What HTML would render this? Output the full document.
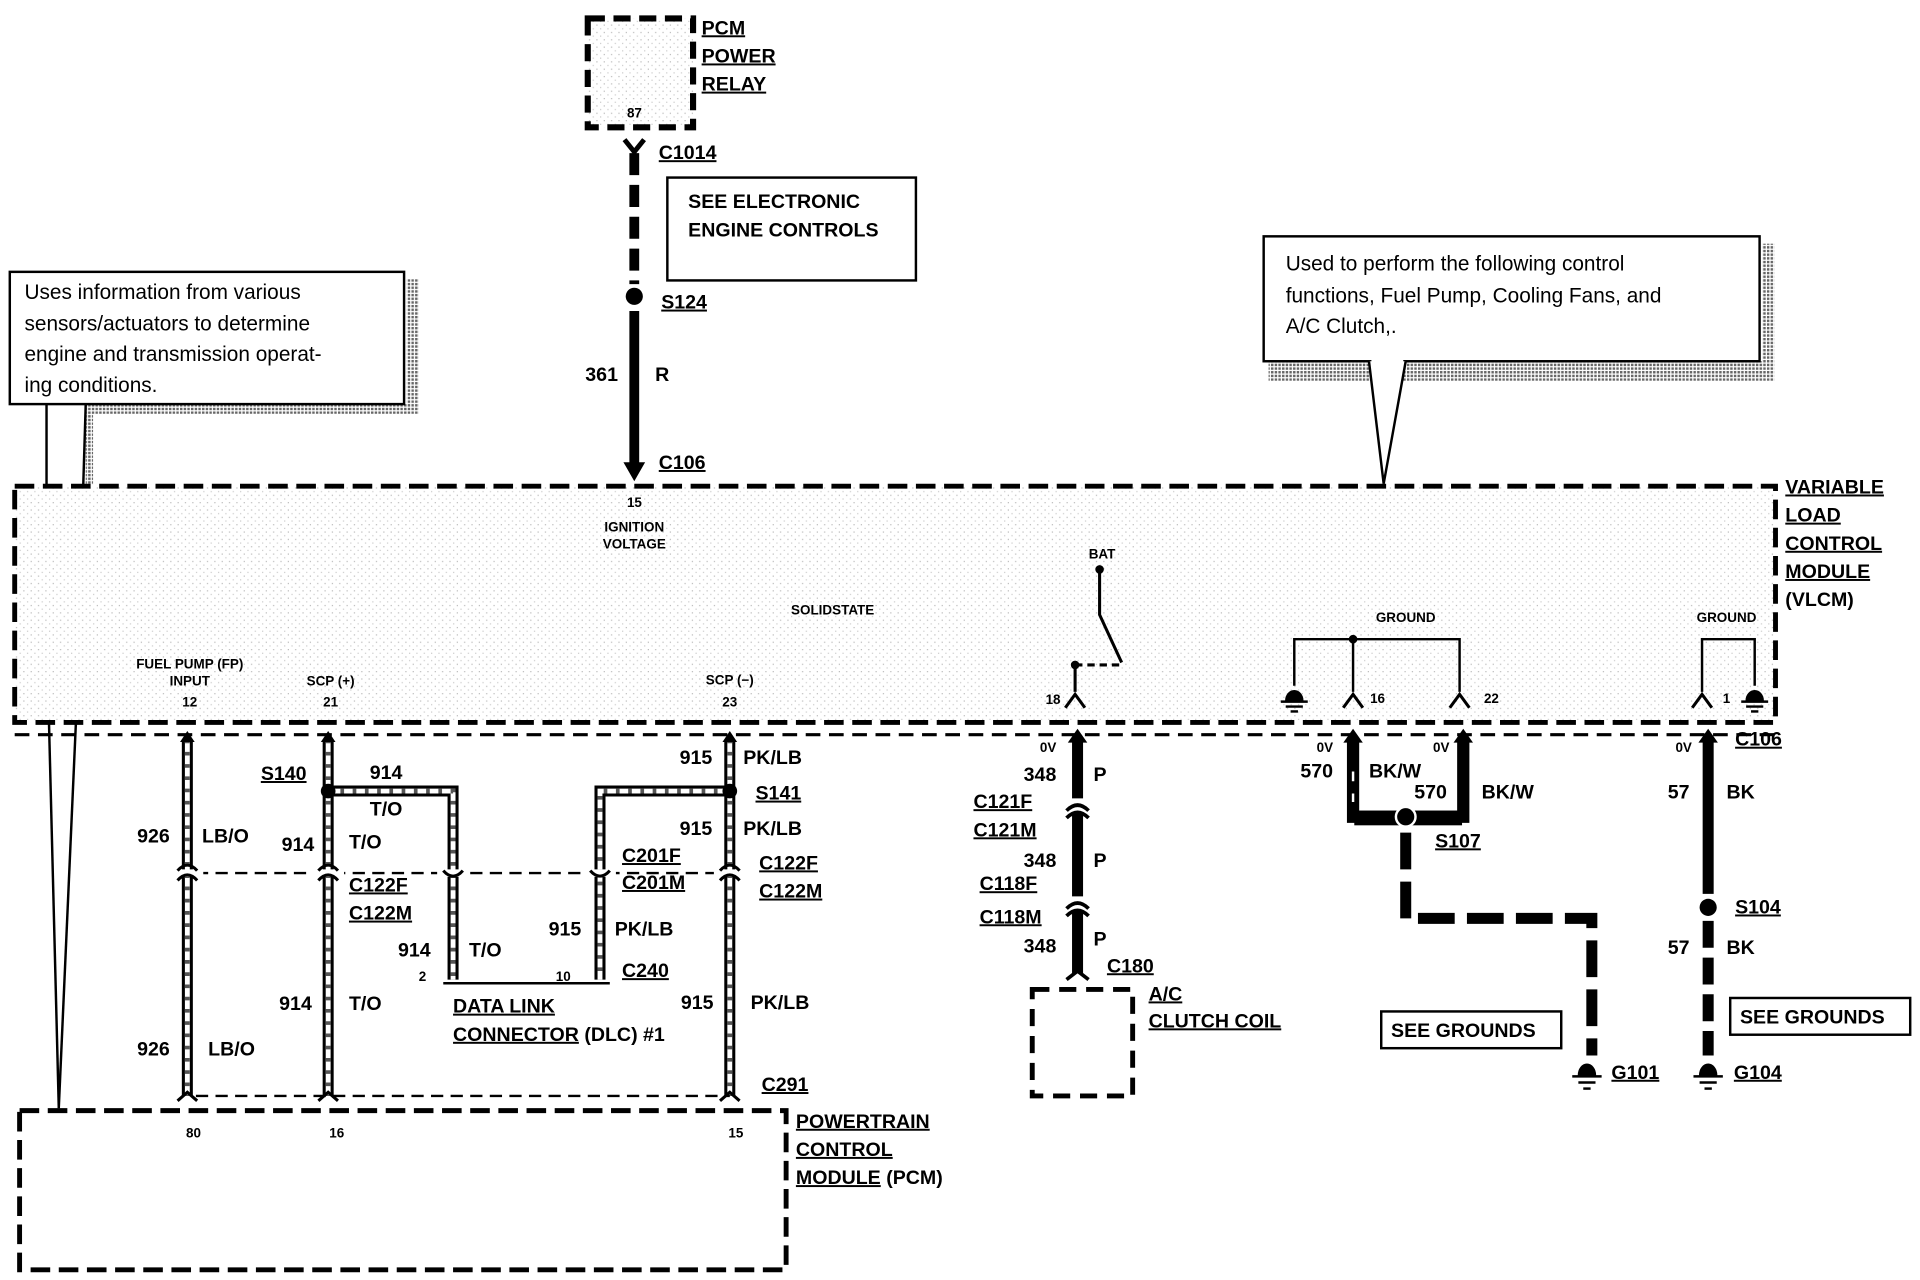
<!DOCTYPE html>
<html><head><meta charset="utf-8"><style>
html,body{margin:0;padding:0;background:#fff;}
svg{display:block}
.b{font-family:"Liberation Sans",sans-serif;font-weight:bold;font-size:16px;fill:#000}
.s{font-family:"Liberation Sans",sans-serif;font-weight:bold;font-size:11px;fill:#000}
.r{font-family:"Liberation Sans",sans-serif;font-size:17px;fill:#000}
.u{text-decoration:underline}
</style></head><body>
<svg width="1920" height="1280" viewBox="0 0 1568 1045.3" xmlns="http://www.w3.org/2000/svg">
<defs>
<pattern id="st" width="6" height="6" patternUnits="userSpaceOnUse"><rect width="6" height="6" fill="#fff"/><rect x="1" y="2" width="1" height="1" fill="#bbb"/><rect x="4" y="5" width="1" height="1" fill="#ccc"/></pattern>
<pattern id="sh" width="3" height="3" patternUnits="userSpaceOnUse"><rect width="3" height="3" fill="#fff"/><rect width="2" height="2" fill="#666"/></pattern>
</defs>
<g stroke="#000" fill="none">
<!-- PCM relay -->
<rect x="480" y="15" width="86" height="89" fill="url(#st)" stroke-width="5" stroke-dasharray="14,7"/>
<!-- relay wire -->
<line x1="518" y1="125" x2="518" y2="232" stroke-width="8" stroke-dasharray="18,8"/>
<polyline points="510,114 518,124 526,114" stroke-width="4"/>
<line x1="518" y1="254" x2="518" y2="380" stroke-width="8"/>
<polygon points="510,378 526,378 518,392" fill="#000" stroke-width="1"/>
<circle cx="518" cy="242" r="7" fill="#000" stroke="none"/>
<!-- see electronic -->
<rect x="545" y="145" width="203" height="84" stroke-width="2"/>
<!-- left callout -->
<rect x="332" y="228" width="10" height="106" fill="url(#sh)" stroke="none"/>
<rect x="72" y="330" width="270" height="8" fill="url(#sh)" stroke="none"/>
<rect x="70" y="330" width="6" height="66" fill="url(#sh)" stroke="none"/>
<rect x="8" y="222" width="322" height="108" fill="#fff" stroke-width="2"/>
<line x1="38" y1="330" x2="38" y2="396" stroke-width="2"/>
<line x1="70" y1="330" x2="68" y2="396" stroke-width="2"/>
<!-- right callout -->
<rect x="1439" y="199" width="10" height="100" fill="url(#sh)" stroke="none"/>
<rect x="1036" y="295" width="413" height="16" fill="url(#sh)" stroke="none"/>
<rect x="1032" y="193" width="405" height="102" fill="#fff" stroke-width="2"/>
<polyline points="1118,295 1130,395 1148,295" stroke-width="2" fill="#fff"/>
<line x1="1120" y1="295" x2="1146" y2="295" stroke="#fff" stroke-width="3"/>
<!-- VLCM -->
<rect x="12" y="397" width="1438" height="193" fill="url(#st)" stroke-width="4" stroke-dasharray="16,7"/>
<line x1="12" y1="600" x2="1452" y2="600" stroke-width="2.5" stroke-dasharray="12,7"/>
<line x1="40" y1="590" x2="48" y2="905" stroke-width="2"/>
<line x1="62" y1="590" x2="48" y2="905" stroke-width="2"/>
<!-- BAT switch -->
<circle cx="898" cy="465" r="3" fill="#000"/>
<polyline points="898,465 898,502 916,541" stroke-width="2.5"/>
<circle cx="878" cy="543" r="3" fill="#000"/>
<line x1="878" y1="543" x2="914" y2="543" stroke-width="2.5" stroke-dasharray="6,4"/>
<line x1="878" y1="543" x2="878" y2="565" stroke-width="2.5"/>
<polyline points="870,578 878,567 886,578" stroke-width="2.5"/>
<!-- ground bus -->
<polyline points="1057,560 1057,522 1192,522 1192,565" stroke-width="2"/>
<line x1="1105" y1="522" x2="1105" y2="565" stroke-width="2"/>
<circle cx="1105" cy="522" r="3" fill="#000"/>
<polyline points="1097,578 1105,567 1113,578" stroke-width="2.5"/>
<polyline points="1184,578 1192,567 1200,578" stroke-width="2.5"/>
<polyline points="1390,565 1390,522 1433,522 1433,560" stroke-width="2"/>
<polyline points="1382,578 1390,567 1398,578" stroke-width="2.5"/>
</g>
<!-- ground symbols -->
<g fill="#000" stroke="#000">
<path d="M1050,572 a7,8 0 0 1 14,0 z"/><line x1="1046" y1="573" x2="1068" y2="573" stroke-width="2"/><line x1="1050" y1="577" x2="1064" y2="577" stroke-width="2"/><line x1="1054" y1="581" x2="1060" y2="581" stroke-width="2"/>
<path d="M1426,572 a7,8 0 0 1 14,0 z"/><line x1="1422" y1="573" x2="1444" y2="573" stroke-width="2"/><line x1="1426" y1="577" x2="1440" y2="577" stroke-width="2"/><line x1="1430" y1="581" x2="1436" y2="581" stroke-width="2"/>
<path d="M1289,878 a7,9 0 0 1 14,0 z"/><line x1="1284" y1="879" x2="1308" y2="879" stroke-width="2"/><line x1="1289" y1="884" x2="1303" y2="884" stroke-width="2"/><line x1="1293" y1="889" x2="1299" y2="889" stroke-width="2"/>
<path d="M1388,878 a7,9 0 0 1 14,0 z"/><line x1="1383" y1="879" x2="1407" y2="879" stroke-width="2"/><line x1="1388" y1="884" x2="1402" y2="884" stroke-width="2"/><line x1="1392" y1="889" x2="1398" y2="889" stroke-width="2"/>
</g>
<!-- PCM side hatched wires -->
<g fill="none">
<g stroke="#000" stroke-width="9">
<line x1="153" y1="604" x2="153" y2="895"/><line x1="268" y1="604" x2="268" y2="895"/><line x1="596" y1="604" x2="596" y2="895"/>
<polyline points="268,646 370,646 370,800"/><polyline points="596,646 490,646 490,800"/>
</g>
<g stroke="#fff" stroke-width="4">
<line x1="153" y1="604" x2="153" y2="895"/><line x1="268" y1="604" x2="268" y2="895"/><line x1="596" y1="604" x2="596" y2="895"/>
<polyline points="268,646 370,646 370,800"/><polyline points="596,646 490,646 490,800"/>
</g>
<g stroke="#555" stroke-width="4" stroke-dasharray="3,7">
<line x1="153" y1="604" x2="153" y2="895"/><line x1="268" y1="604" x2="268" y2="895"/><line x1="596" y1="604" x2="596" y2="895"/>
<polyline points="268,646 370,646 370,800"/><polyline points="596,646 490,646 490,800"/>
</g>
<g stroke="#000" stroke-width="2" stroke-dasharray="10,6">
<line x1="160" y1="713" x2="596" y2="713"/><line x1="160" y1="895" x2="596" y2="895"/>
</g>
<line x1="362" y1="803" x2="498" y2="803" stroke="#000" stroke-width="2"/>
<g stroke="#fff" stroke-width="6"><line x1="140" y1="713" x2="166" y2="713"/><line x1="255" y1="713" x2="281" y2="713"/><line x1="583" y1="713" x2="609" y2="713"/><line x1="357" y1="713" x2="383" y2="713"/><line x1="477" y1="713" x2="503" y2="713"/></g>
<g stroke="#000" stroke-width="2.5">
<path d="M145,711 q8,-9 16,0 M145,719 q8,-9 16,0"/><path d="M260,711 q8,-9 16,0 M260,719 q8,-9 16,0"/><path d="M588,711 q8,-9 16,0 M588,719 q8,-9 16,0"/>
<path d="M362,711 q8,9 16,0"/><path d="M482,711 q8,9 16,0"/>
<path d="M145,899 l8,-7 8,7"/><path d="M260,899 l8,-7 8,7"/><path d="M588,899 l8,-7 8,7"/>
</g>
<g fill="#000"><polygon points="147,606 159,606 153,597"/><polygon points="262,606 274,606 268,597"/><polygon points="590,606 602,606 596,597"/></g>
<circle cx="268" cy="646" r="6" fill="#000"/><circle cx="596" cy="646" r="6" fill="#000"/>
<rect x="16" y="907" width="626" height="130" stroke="#000" stroke-width="4" stroke-dasharray="16,7"/>
</g>
<!-- A/C wire -->
<g fill="none" stroke="#000">
<line x1="880" y1="604" x2="880" y2="652" stroke-width="9"/>
<line x1="880" y1="664" x2="880" y2="732" stroke-width="9"/>
<line x1="880" y1="744" x2="880" y2="795" stroke-width="9"/>
<path d="M871,662 q9,-9 18,0 M871,668 q9,-9 18,0 M871,742 q9,-9 18,0 M871,748 q9,-9 18,0 M871,800 l9,-7 9,7" stroke-width="3"/>
<polygon points="873,606 887,606 880,596" fill="#000"/>
<rect x="843" y="808" width="82" height="87" stroke-width="4" stroke-dasharray="14,8"/>
<!-- 570 -->
<polyline points="1105,604 1105,667 1195,667 1195,604" stroke-width="10"/>
<polyline points="1105,630 1105,655 M1195,625 1195,655" stroke="#fff" stroke-width="2" stroke-dasharray="8,10"/>
<polygon points="1098,606 1112,606 1105,596" fill="#000"/><polygon points="1188,606 1202,606 1195,596" fill="#000"/>
<polyline points="1148,680 1148,750 1300,750 1300,862" stroke-width="9" stroke-dasharray="30,10"/>
<!-- 57 -->
<line x1="1395" y1="604" x2="1395" y2="730" stroke-width="9"/>
<line x1="1395" y1="752" x2="1395" y2="862" stroke-width="9" stroke-dasharray="22,8"/>
<polygon points="1388,606 1402,606 1395,596" fill="#000"/>
<rect x="1128" y="826" width="147" height="30" stroke-width="2"/>
<rect x="1413" y="815" width="147" height="30" stroke-width="2"/>
</g>
<rect x="1106" y="662" width="88" height="12" fill="#000"/>
<circle cx="1148" cy="667" r="8" fill="#000" stroke="#fff" stroke-width="2"/>
<circle cx="1395" cy="741" r="7" fill="#000"/>

<!-- Text -->
<g class="b">
<text x="573" y="28" class="u">PCM</text><text x="573" y="51" class="u">POWER</text><text x="573" y="74" class="u">RELAY</text>
<text x="538" y="130" class="u">C1014</text>
<text x="562" y="170">SEE ELECTRONIC</text><text x="562" y="193">ENGINE CONTROLS</text>
<text x="540" y="252" class="u">S124</text>
<text x="478" y="311">361</text><text x="535" y="311">R</text>
<text x="538" y="383" class="u">C106</text>
<text x="1458" y="403" class="u">VARIABLE</text><text x="1458" y="426" class="u">LOAD</text><text x="1458" y="449" class="u">CONTROL</text><text x="1458" y="472" class="u">MODULE</text><text x="1458" y="495">(VLCM)</text>
<text x="213" y="637" class="u">S140</text><text x="302" y="636">914</text><text x="302" y="666">T/O</text>
<text x="555" y="624">915</text><text x="607" y="624">PK/LB</text><text x="617" y="653" class="u">S141</text>
<text x="555" y="682">915</text><text x="607" y="682">PK/LB</text>
<text x="112" y="688">926</text><text x="165" y="688">LB/O</text>
<text x="230" y="695">914</text><text x="285" y="693">T/O</text>
<text x="285" y="728" class="u">C122F</text><text x="285" y="751" class="u">C122M</text>
<text x="508" y="704" class="u">C201F</text><text x="508" y="726" class="u">C201M</text>
<text x="620" y="710" class="u">C122F</text><text x="620" y="733" class="u">C122M</text>
<text x="325" y="781">914</text><text x="383" y="781">T/O</text>
<text x="448" y="764">915</text><text x="502" y="764">PK/LB</text>
<text x="508" y="798" class="u">C240</text>
<text x="370" y="827" class="u">DATA LINK</text><text x="370" y="850"><tspan class="u">CONNECTOR</tspan> (DLC) #1</text>
<text x="228" y="825">914</text><text x="285" y="825">T/O</text>
<text x="556" y="824">915</text><text x="613" y="824">PK/LB</text>
<text x="112" y="862">926</text><text x="170" y="862">LB/O</text>
<text x="622" y="891" class="u">C291</text>
<text x="650" y="921" class="u">POWERTRAIN</text><text x="650" y="944" class="u">CONTROL</text><text x="650" y="967"><tspan class="u">MODULE</tspan> (PCM)</text>
<text x="836" y="638">348</text><text x="893" y="638">P</text>
<text x="795" y="660" class="u">C121F</text><text x="795" y="683" class="u">C121M</text>
<text x="836" y="708">348</text><text x="893" y="708">P</text>
<text x="800" y="727" class="u">C118F</text><text x="800" y="754" class="u">C118M</text>
<text x="836" y="778">348</text><text x="893" y="772">P</text>
<text x="904" y="794" class="u">C180</text>
<text x="938" y="817" class="u">A/C</text><text x="938" y="839" class="u">CLUTCH COIL</text>
<text x="1062" y="635">570</text><text x="1118" y="635">BK/W</text>
<text x="1155" y="652">570</text><text x="1210" y="652">BK/W</text>
<text x="1172" y="692" class="u">S107</text>
<text x="1417" y="609" class="u">C106</text>
<text x="1362" y="652">57</text><text x="1410" y="652">BK</text>
<text x="1417" y="746" class="u">S104</text>
<text x="1362" y="779">57</text><text x="1410" y="779">BK</text>
<text x="1136" y="847">SEE GROUNDS</text><text x="1421" y="836">SEE GROUNDS</text>
<text x="1316" y="881" class="u">G101</text><text x="1416" y="881" class="u">G104</text>
</g>
<g class="s">
<text x="512" y="96">87</text>
<text x="512" y="414">15</text>
<text x="518" y="434" text-anchor="middle">IGNITION</text><text x="518" y="448" text-anchor="middle">VOLTAGE</text>
<text x="680" y="502" text-anchor="middle">SOLIDSTATE</text>
<text x="155" y="546" text-anchor="middle">FUEL PUMP (FP)</text><text x="155" y="560" text-anchor="middle">INPUT</text><text x="155" y="577" text-anchor="middle">12</text>
<text x="270" y="560" text-anchor="middle">SCP (+)</text><text x="270" y="577" text-anchor="middle">21</text>
<text x="596" y="559" text-anchor="middle">SCP (−)</text><text x="596" y="577" text-anchor="middle">23</text>
<text x="900" y="456" text-anchor="middle">BAT</text>
<text x="860" y="575" text-anchor="middle">18</text>
<text x="1148" y="508" text-anchor="middle">GROUND</text>
<text x="1125" y="574" text-anchor="middle">16</text><text x="1218" y="574" text-anchor="middle">22</text>
<text x="1410" y="508" text-anchor="middle">GROUND</text><text x="1410" y="574" text-anchor="middle">1</text>
<text x="856" y="614" text-anchor="middle">0V</text><text x="1082" y="614" text-anchor="middle">0V</text><text x="1177" y="614" text-anchor="middle">0V</text><text x="1375" y="614" text-anchor="middle">0V</text>
<text x="345" y="801" text-anchor="middle">2</text><text x="460" y="801" text-anchor="middle">10</text>
<text x="158" y="929" text-anchor="middle">80</text><text x="275" y="929" text-anchor="middle">16</text><text x="601" y="929" text-anchor="middle">15</text>
</g>
<g class="r">
<text x="20" y="244">Uses information from various</text>
<text x="20" y="270">sensors/actuators to determine</text>
<text x="20" y="295">engine and transmission operat-</text>
<text x="20" y="320">ing conditions.</text>
<text x="1050" y="221">Used to perform the following control</text>
<text x="1050" y="247">functions, Fuel Pump, Cooling Fans, and</text>
<text x="1050" y="272">A/C  Clutch,.</text>
</g>
</svg>
</body></html>
